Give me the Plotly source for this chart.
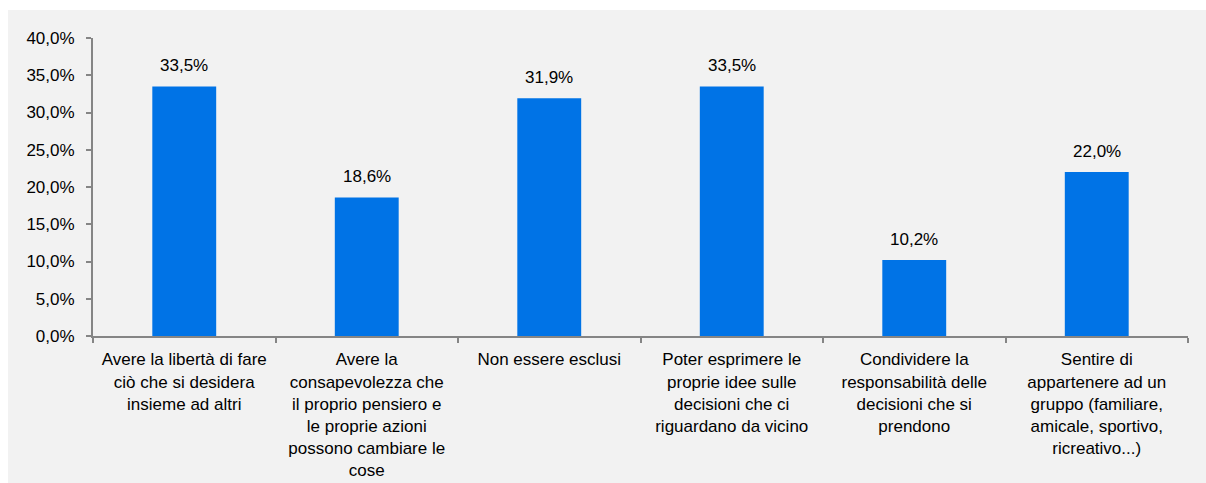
import plotly.graph_objects as go

categories = [
    "Avere la libertà di fare<br>ciò che si desidera<br>insieme ad altri",
    "Avere la<br>consapevolezza che<br>il proprio pensiero e<br>le proprie azioni<br>possono cambiare le<br>cose",
    "Non essere esclusi",
    "Poter esprimere le<br>proprie idee sulle<br>decisioni che ci<br>riguardano da vicino",
    "Condividere la<br>responsabilità delle<br>decisioni che si<br>prendono",
    "Sentire di<br>appartenere ad un<br>gruppo (familiare,<br>amicale, sportivo,<br>ricreativo...)",
]
values = [33.5, 18.6, 31.9, 33.5, 10.2, 22.0]
y_ticks = [0, 5, 10, 15, 20, 25, 30, 35, 40]
y_tick_labels = ["0,0%", "5,0%", "10,0%", "15,0%", "20,0%", "25,0%", "30,0%", "35,0%", "40,0%"]

W, H = 1206, 483
ML, MR, MT, MB = 93, 18, 38, 147
pw = W - ML - MR
ph = H - MT - MB

BG = "#f2f2f2"
AX = "#858585"
FONT = "Liberation Sans, Arial, sans-serif"
FS = 17


def px_x(p):
    return (p - ML) / pw


def px_y(p):
    return (H - MB - p) / ph


fig = go.Figure(go.Bar(
    x=categories, y=values,
    marker=dict(color="#0073E6", line=dict(width=0)),
    hoverinfo="skip",
))

for c, v in zip(categories, values):
    fig.add_annotation(x=c, y=v, text=f"{v:.1f}%".replace(".", ","),
                       showarrow=False, yanchor="bottom", yshift=9,
                       font=dict(size=FS, color="#000", family=FONT))

# white page border: top 10px and left 8px
fig.add_shape(type="rect", xref="paper", yref="paper",
              x0=px_x(0), x1=px_x(W), y0=px_y(10), y1=px_y(0),
              fillcolor="white", line=dict(width=0), layer="below")
fig.add_shape(type="rect", xref="paper", yref="paper",
              x0=px_x(0), x1=px_x(8), y0=px_y(H), y1=px_y(0),
              fillcolor="white", line=dict(width=0), layer="below")

fig.update_layout(
    width=W, height=H,
    margin=dict(l=ML, r=MR, t=MT, b=MB, autoexpand=False),
    paper_bgcolor=BG, plot_bgcolor=BG,
    bargap=0.65,
    showlegend=False,
    font=dict(family=FONT, size=FS, color="#000"),
    xaxis=dict(
        showline=True, linecolor=AX, linewidth=2,
        ticks="outside", tickson="boundaries", ticklen=5, tickcolor=AX, tickwidth=2,
        showgrid=False, tickangle=0, ticklabelstandoff=7,
        tickfont=dict(size=FS, color="#000", family=FONT),
    ),
    yaxis=dict(
        range=[0, 40], tickmode="array", tickvals=y_ticks, ticktext=y_tick_labels,
        showline=True, linecolor=AX, linewidth=2,
        ticks="outside", ticklen=5, tickcolor=AX, tickwidth=2,
        showgrid=False, zeroline=False, ticklabelstandoff=8,
        tickfont=dict(size=FS, color="#000", family=FONT),
    ),
)

fig.write_html(
    "out.html",
    config={"displayModeBar": False},
    post_script=(
        "document.body.style.margin='0';"
        "document.documentElement.style.overflow='hidden';"
        "document.body.style.overflow='hidden';"
    ),
)
